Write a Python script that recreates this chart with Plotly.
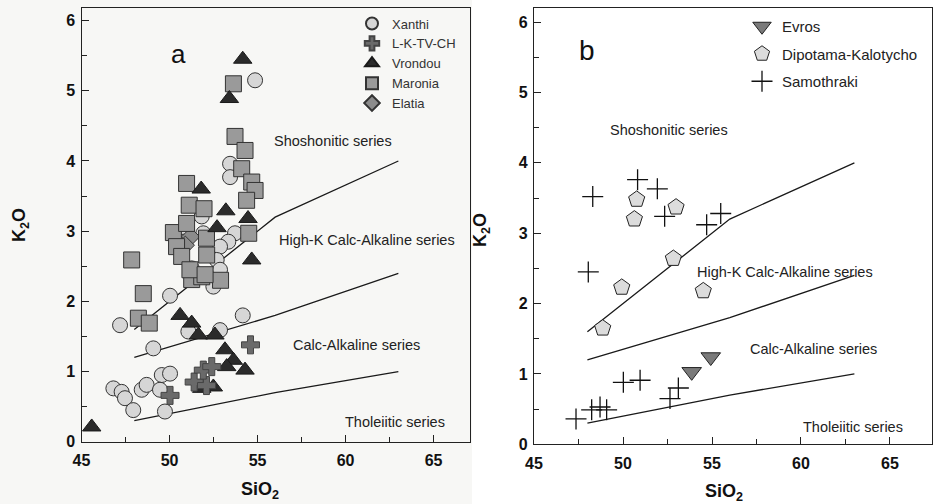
import plotly.graph_objects as go

W, H = 933, 504

# ---- classification boundaries (SiO2, K2O) ----
bnd_si = [48, 56, 63]
bnd_sho = [1.6, 3.2, 4.0]
bnd_hk = [1.2, 1.8, 2.4]
bnd_ca = [0.3, 0.7, 1.0]

# ---- panel a data ----
xanthi_si = [54.86, 53.44, 53.44, 53.72, 53.34, 52.87, 52.68, 52.87, 52.49, 51.26, 51.83, 51.92,
             50.97, 50.79, 50.03, 47.19, 49.08, 51.07, 52.87, 54.16, 49.56, 50.03, 46.81, 47.28,
             47.47, 48.42, 48.70, 49.46, 47.94, 49.74]
xanthi_k = [5.15, 3.96, 3.77, 2.97, 2.85, 2.78, 2.59, 2.45, 2.21, 2.47, 3.21, 2.97,
            3.02, 2.85, 2.08, 1.66, 1.33, 1.57, 1.59, 1.80, 0.95, 0.97, 0.76, 0.71,
            0.62, 0.74, 0.81, 0.74, 0.45, 0.43]

elatia_si = [51.2, 50.9]
elatia_k = [2.92, 2.80]

maronia_si = [53.63, 53.72, 54.29, 54.10, 54.67, 54.86, 54.38, 50.97, 51.12, 51.96, 50.22, 50.97,
              52.10, 54.50, 50.40, 50.69, 52.11, 51.26, 51.83, 52.90, 47.85, 48.51, 48.23, 48.85,
              51.16, 52.02]
maronia_k = [5.10, 4.35, 4.15, 3.89, 3.70, 3.58, 3.44, 3.68, 3.37, 3.32, 2.98, 3.11,
             2.90, 2.97, 2.78, 2.64, 2.66, 2.31, 2.35, 2.30, 2.59, 2.11, 1.76, 1.69,
             2.45, 2.38]

vrondou_si = [54.16, 53.40, 51.80, 53.20, 54.46, 52.70, 54.67, 50.60, 51.26, 51.64, 52.58, 53.15,
              53.63, 53.25, 54.29, 52.49, 51.83, 45.58]
vrondou_k = [5.45, 4.89, 3.60, 3.29, 3.18, 3.05, 2.59, 1.80, 1.69, 1.52, 1.52, 1.31,
             1.16, 1.07, 1.02, 0.78, 0.76, 0.21]

lktv_si = [54.60, 50.03, 51.40, 52.10, 51.92, 52.40]
lktv_k = [1.38, 0.66, 0.85, 0.80, 1.02, 1.07]

# ---- panel b data ----
evros_si = [54.93, 53.86]
evros_k = [1.24, 1.03]

dipo_si = [50.77, 50.64, 52.98, 52.83, 49.93, 54.51, 48.86]
dipo_k = [3.48, 3.20, 3.37, 2.64, 2.23, 2.18, 1.65]

samo_si = [48.30, 50.82, 51.93, 52.34, 55.49, 54.70, 48.05, 50.02, 50.96, 52.64, 53.11, 48.24,
           48.71, 49.08, 47.36]
samo_k = [3.52, 3.76, 3.63, 3.24, 3.28, 3.12, 2.45, 0.88, 0.91, 0.65, 0.80, 0.49,
          0.53, 0.49, 0.36]

series_labels = ["Shoshonitic series", "High-K Calc-Alkaline series", "Calc-Alkaline series", "Tholeiitic series"]
lab_a_si = [59.3, 61.2, 60.6, 62.8]
lab_a_k = [4.29, 2.88, 1.38, 0.28]
lab_b_si = [52.6, 59.1, 60.7, 62.9]
lab_b_k = [4.47, 2.45, 1.35, 0.25]

EDGE = "#333333"

fig = go.Figure()


def px_x(p):
    return p / W


def px_y(p):
    return 1 - p / H


# boundary lines
for xa, ya in (("x", "y"), ("x2", "y2")):
    for yy in (bnd_sho, bnd_hk, bnd_ca):
        fig.add_trace(go.Scatter(x=bnd_si, y=yy, mode="lines", xaxis=xa, yaxis=ya,
                                 line=dict(color="#1a1a1a", width=1.3), showlegend=False,
                                 hoverinfo="skip"))


def mk(name, xs, ys, symbol, size, fill, xa, ya, legend, edge=EDGE, lw=1, rank=None):
    fig.add_trace(go.Scatter(
        x=xs, y=ys, mode="markers", name=name, xaxis=xa, yaxis=ya, legend=legend,
        legendgroup=name, legendrank=rank if rank is not None else 1000,
        marker=dict(symbol=symbol, size=size, color=fill, line=dict(color=edge, width=lw))))


# panel a traces
mk("Xanthi", xanthi_si, xanthi_k, "circle", 15, "#d6d6d6", "x", "y", "legend", rank=1)
mk("Elatia", elatia_si, elatia_k, "diamond", 14, "#8c8c8c", "x", "y", "legend", rank=5)
mk("Maronia", maronia_si, maronia_k, "square", 16, "#9a9a9a", "x", "y", "legend", rank=4)
mk("Vrondou", vrondou_si, vrondou_k, "triangle-up", 16, "#2b2b2b", "x", "y", "legend", edge="#1a1a1a", rank=3)
mk("L-K-TV-CH", lktv_si, lktv_k, "cross", 15, "#6a6a6a", "x", "y", "legend", edge="#444444", rank=2)

# panel b traces
mk("Evros", evros_si, evros_k, "triangle-down", 17, "#7a7a7a", "x2", "y2", "legend2", edge="#222222", rank=1)
mk("Dipotama-Kalotycho", dipo_si, dipo_k, "pentagon", 17, "#dcdcdc", "x2", "y2", "legend2", edge="#222222", rank=2)
mk("Samothraki", samo_si, samo_k, "cross-thin", 15, "#111111", "x2", "y2", "legend2", edge="#111111", lw=1.3, rank=3)

annotations = []
for t, xs, ys in zip(series_labels, lab_a_si, lab_a_k):
    annotations.append(dict(x=xs, y=ys, xref="x", yref="y", text=t, showarrow=False,
                            font=dict(size=14.5, color="#222222", family="Liberation Sans")))
for t, xs, ys in zip(series_labels, lab_b_si, lab_b_k):
    annotations.append(dict(x=xs, y=ys, xref="x2", yref="y2", text=t, showarrow=False,
                            font=dict(size=14.5, color="#222222", family="Liberation Sans")))
bold18 = dict(size=18, color="#111111", family="Liberation Sans", weight=700)
annotations += [
    dict(x=50.5, y=5.53, xref="x", yref="y", text="a", showarrow=False,
         font=dict(size=26, color="#111111", family="Liberation Sans")),
    dict(x=48.0, y=5.6, xref="x2", yref="y2", text="b", showarrow=False,
         font=dict(size=28, color="#111111", family="Liberation Sans")),
    dict(x=px_x(21), y=px_y(225), xref="paper", yref="paper", text="K<sub>2</sub>O", textangle=-90,
         xanchor="center", yanchor="middle", showarrow=False, font=bold18),
    dict(x=px_x(482), y=px_y(230), xref="paper", yref="paper", text="K<sub>2</sub>O", textangle=-90,
         xanchor="center", yanchor="middle", showarrow=False, font=bold18),
    dict(x=px_x(260), y=px_y(490), xref="paper", yref="paper", text="SiO<sub>2</sub>",
         xanchor="center", yanchor="middle", showarrow=False, font=bold18),
    dict(x=px_x(724), y=px_y(492), xref="paper", yref="paper", text="SiO<sub>2</sub>",
         xanchor="center", yanchor="middle", showarrow=False, font=bold18),
]

tickfont = dict(size=16, color="#111111", family="Liberation Sans", weight=700)


def xaxis(domain, rng, anchor):
    return dict(domain=domain, range=rng, anchor=anchor, showline=True, linecolor="#222222",
                linewidth=1.2, mirror=True, showgrid=False, zeroline=False, automargin=False,
                ticks="inside", ticklen=7, tickwidth=1, tickcolor="#222222", dtick=5, tick0=45,
                tickfont=tickfont, ticklabelstandoff=4,
                minor=dict(ticks="inside", ticklen=5, dtick=2.5, tickcolor="#222222", showgrid=False))


def yaxis(domain, rng, anchor):
    return dict(domain=domain, range=rng, anchor=anchor, showline=True, linecolor="#222222",
                linewidth=1.2, mirror=True, showgrid=False, zeroline=False, automargin=False,
                ticks="inside", ticklen=7, tickwidth=1, tickcolor="#222222", dtick=1, tick0=0,
                tickfont=tickfont, ticklabelstandoff=2,
                minor=dict(ticks="inside", ticklen=5, dtick=0.5, tickcolor="#222222", showgrid=False))


fig.update_layout(
    width=W, height=H, margin=dict(l=0, r=0, t=0, b=0, autoexpand=False),
    paper_bgcolor="white", plot_bgcolor="rgba(0,0,0,0)",
    xaxis=xaxis([px_x(81.5), px_x(470)], [45, 67.07], "y"),
    yaxis=yaxis([px_y(441.7), px_y(8)], [0, 6.18], "x"),
    xaxis2=xaxis([px_x(534), px_x(932)], [45, 67.36], "y2"),
    yaxis2=yaxis([px_y(444.3), px_y(8)], [0, 6.2], "x2"),
    legend=dict(x=px_x(352), y=px_y(8.5), xanchor="left", yanchor="top", bgcolor="rgba(0,0,0,0)",
                xref="container", yref="container",
                font=dict(size=13, color="#333333", family="Liberation Sans"),
                itemsizing="constant", tracegroupgap=0, traceorder="grouped"),
    legend2=dict(x=px_x(742), y=px_y(10), xanchor="left", yanchor="top", bgcolor="rgba(0,0,0,0)",
                 xref="container", yref="container",
                 font=dict(size=15, color="#222222", family="Liberation Sans"),
                 itemsizing="trace", tracegroupgap=5, traceorder="grouped"),
    annotations=annotations,
    shapes=[dict(type="rect", xref="paper", yref="paper", x0=0, x1=px_x(472), y0=0, y1=1,
                 fillcolor="#f7f7f5", line=dict(width=0), layer="below")],
    showlegend=True,
)

fig.write_html("out.html", config={"displayModeBar": False},
               post_script="document.body.style.margin='0';document.body.style.overflow='hidden';")
